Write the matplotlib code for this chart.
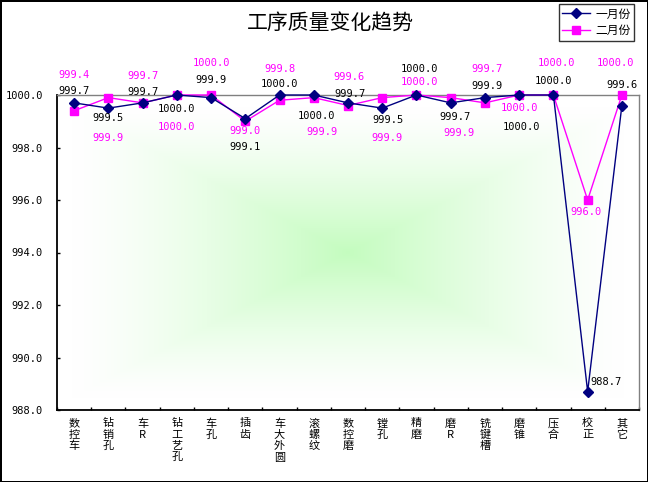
import numpy as np
import matplotlib.pyplot as plt

cjk = ['Noto Sans CJK SC', 'DejaVu Sans']
mono = 'DejaVu Sans Mono'

categories = ['数控车', '钻销孔', '车R', '钻工艺孔', '车孔', '插齿', '车大外圆', '滚螺纹',
              '数控磨', '镗孔', '精磨', '磨R', '铣键槽', '磨锥', '压合', '校正', '其它']
jan = [999.7, 999.5, 999.7, 1000.0, 999.9, 999.1, 1000.0, 1000.0,
       999.7, 999.5, 1000.0, 999.7, 999.9, 1000.0, 1000.0, 988.7, 999.6]
feb = [999.4, 999.9, 999.7, 1000.0, 1000.0, 999.0, 999.8, 999.9,
       999.6, 999.9, 1000.0, 999.9, 999.7, 1000.0, 1000.0, 996.0, 1000.0]
yticks = [988, 990, 992, 994, 996, 998, 1000]

# label offsets in pixels (dx, dy with dy measured downward)
jan_off = [(0, -12), (0, 10), (0, -11), (0, 14), (0, -18), (0, 28), (0, -11), (3, 21),
           (2, -9), (6, 12), (3, -26), (4, 14), (2, -12), (2, 32), (0, -14), (18, -10), (0, -20)]
feb_off = [(0, -36), (0, 40), (0, -27), (0, 32), (0, -32), (0, 10), (0, -31), (8, 34),
           (1, -28), (5, 40), (3, -13), (8, 35), (2, -34), (0, 13), (3, -32), (-2, 12), (-6, -32)]

plt.rcParams['font.family'] = cjk
fig = plt.figure(figsize=(6.48, 4.82), dpi=100)
fig.patch.set_edgecolor('black')
fig.patch.set_linewidth(2.0)
ax = fig.add_axes([57 / 648, 1 - 410 / 482, 582 / 648, 315 / 482])

x = np.arange(len(categories))
ax.set_xlim(-0.5, len(categories) - 0.5)
ax.set_ylim(988, 1000)

# rectangular gradient background (green centre -> white edge)
u = np.linspace(-1, 1, 300)
U, V = np.meshgrid(u, u)
t = np.clip(np.maximum(np.abs(U) / 0.95, np.abs(V) / 0.92), 0, 1)
w = (1 - t) ** 1.3
green = np.array([0.77, 0.99, 0.75])
img = w[..., None] * green + (1 - w)[..., None] * np.ones(3)
ax.imshow(img, extent=[0, 1, 0, 1], transform=ax.transAxes, aspect='auto', zorder=0,
          interpolation='bilinear')

ax.plot(x, jan, color='#000080', marker='D', markersize=5, linewidth=1.0,
        clip_on=False, zorder=4, label='一月份')
ax.plot(x, feb, color='#FF00FF', marker='s', markersize=5.5, linewidth=1.0,
        clip_on=False, zorder=3, label='二月份')

for i in range(len(categories)):
    ax.annotate(f'{jan[i]:.1f}', (x[i], jan[i]), xytext=(jan_off[i][0], -jan_off[i][1]),
                textcoords='offset pixels', ha='center', va='center', fontsize=7.5,
                family=mono, color='black', annotation_clip=False, zorder=5)
    ax.annotate(f'{feb[i]:.1f}', (x[i], feb[i]), xytext=(feb_off[i][0], -feb_off[i][1]),
                textcoords='offset pixels', ha='center', va='center', fontsize=7.5,
                family=mono, color='#FF00FF', annotation_clip=False, zorder=5)

ax.set_yticks(yticks)
ax.set_yticklabels([f'{v:.1f}' for v in yticks], family=mono, fontsize=7.5)
ax.set_xticks(x)
ax.set_xticklabels(['\n'.join(c) for c in categories], fontsize=8, linespacing=1.15, va='top')
ax.set_xticks(np.arange(-0.5, len(categories), 1), minor=True)
ax.tick_params(axis='x', which='major', length=0, pad=6)
ax.tick_params(axis='x', which='minor', direction='in', length=2.5, width=1)
ax.tick_params(axis='y', direction='in', length=2.5, width=1, pad=10)

for s in ['left', 'bottom']:
    ax.spines[s].set_color('black')
    ax.spines[s].set_linewidth(1.3)
for s in ['top', 'right']:
    ax.spines[s].set_color('#808080')
    ax.spines[s].set_linewidth(1.0)

fig.text(330 / 648, 1 - 23 / 482, '工序质量变化趋势', ha='center', va='center', fontsize=15)

leg = fig.legend(loc='upper right', bbox_to_anchor=(634 / 648, 1 - 4 / 482), fontsize=8.5,
                 frameon=True, fancybox=False, edgecolor='black', handlelength=2.4,
                 borderpad=0.3, labelspacing=0.3, handletextpad=0.4, borderaxespad=0)
leg.get_frame().set_linewidth(1.0)

fig.savefig('out.png', dpi=100)
